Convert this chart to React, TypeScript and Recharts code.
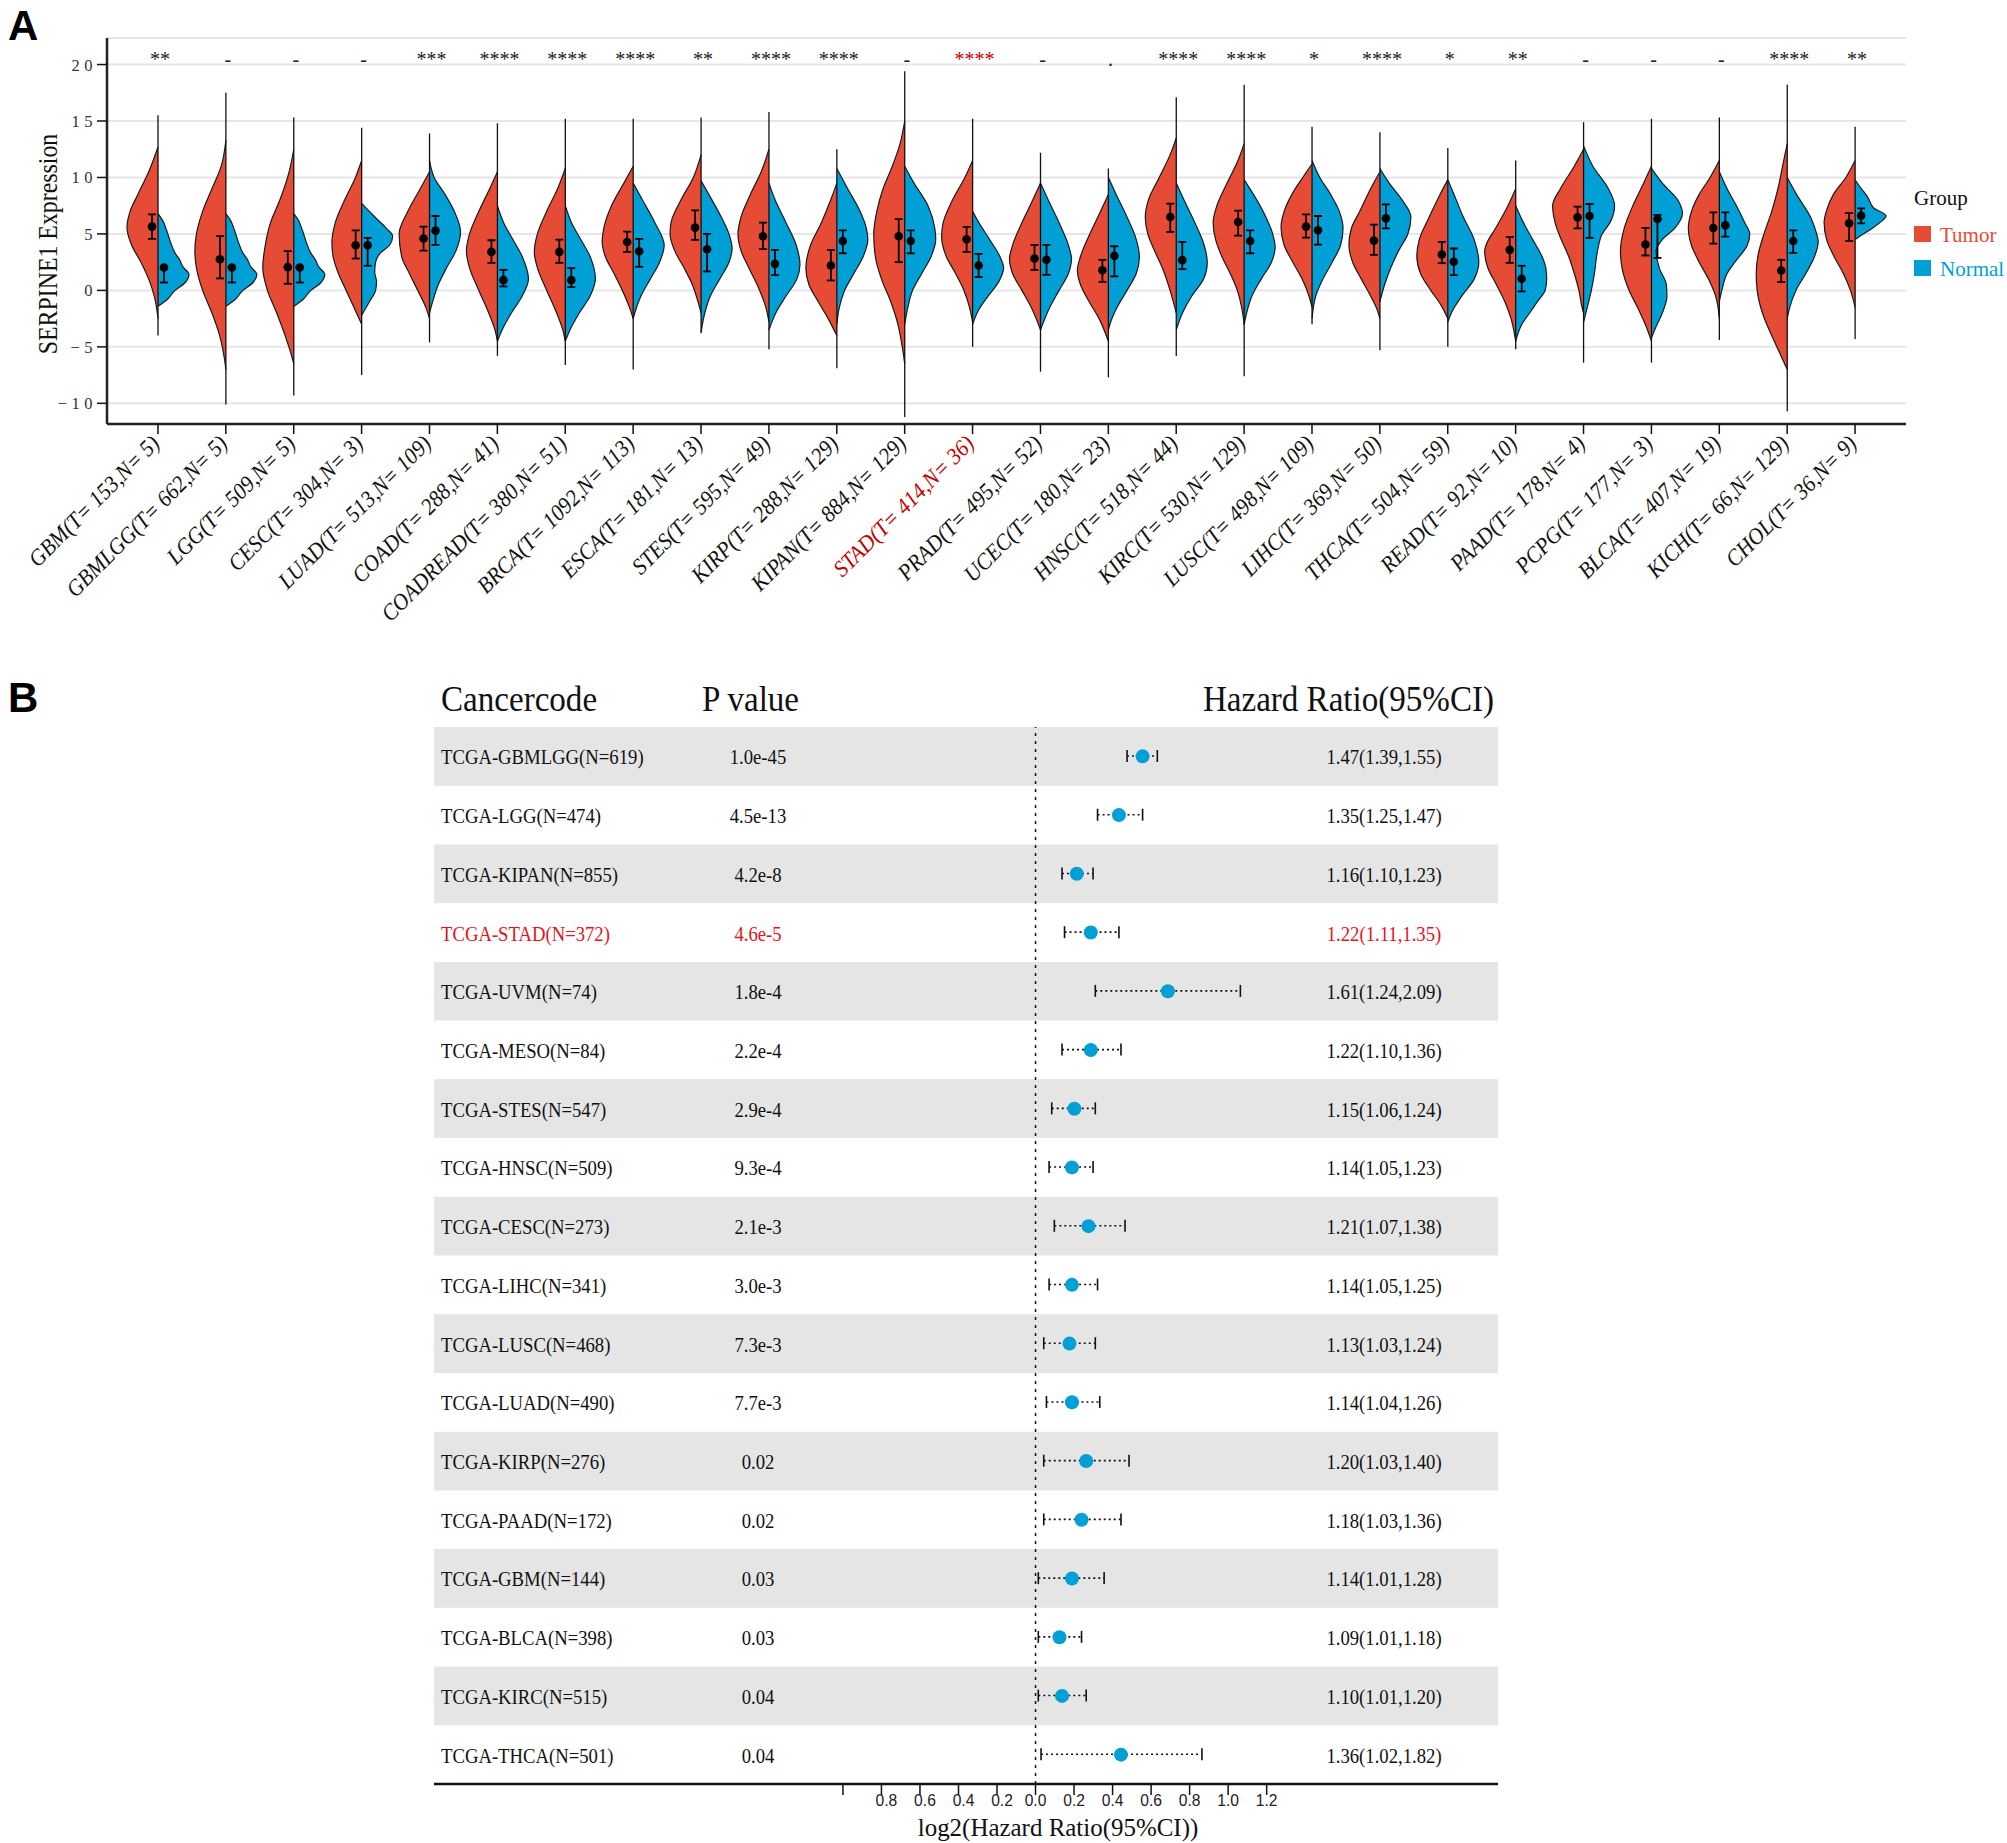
import React from "react";
import {
  ComposedChart,
  Bar,
  Line,
  XAxis,
  YAxis,
  CartesianGrid,
  Curve,
  ReferenceArea,
  ReferenceLine,
} from "recharts";

const SERIF = '"Liberation Serif", "Times New Roman", serif';
const SANS = '"Liberation Sans", Arial, sans-serif';
const RED = "#E64B35";
const BLUE = "#00A0D6";
const HALF_W = 31;

// ---------- Panel A: SERPINE1 expression, tumor vs normal ----------
const CANCERS = [
  "GBM", "GBMLGG", "LGG", "CESC", "LUAD", "COAD", "COADREAD", "BRCA", "ESCA",
  "STES", "KIRP", "KIPAN", "STAD", "PRAD", "UCEC", "HNSC", "KIRC", "LUSC",
  "LIHC", "THCA", "READ", "PAAD", "PCPG", "BLCA", "KICH", "CHOL",
];
const COUNTS = [
  "T= 153,N= 5", "T= 662,N= 5", "T= 509,N= 5", "T= 304,N= 3", "T= 513,N= 109",
  "T= 288,N= 41", "T= 380,N= 51", "T= 1092,N= 113", "T= 181,N= 13", "T= 595,N= 49",
  "T= 288,N= 129", "T= 884,N= 129", "T= 414,N= 36", "T= 495,N= 52", "T= 180,N= 23",
  "T= 518,N= 44", "T= 530,N= 129", "T= 498,N= 109", "T= 369,N= 50", "T= 504,N= 59",
  "T= 92,N= 10", "T= 178,N= 4", "T= 177,N= 3", "T= 407,N= 19", "T= 66,N= 129",
  "T= 36,N= 9",
];
const SIG = [
  "**", "-", "-", "-", "***", "****", "****", "****", "**", "****", "****", "-",
  "****", "-", ".", "****", "****", "*", "****", "*", "**", "-", "-", "-", "****", "**",
];
const HIGHLIGHT = "STAD";

// thin centre line extent
const TAIL_MIN = [-4.0, -10.1, -9.3, -7.5, -4.6, -5.8, -6.6, -7.0, -3.8, -5.2, -6.9, -11.2, -5.0,
  -7.2, -7.7, -5.8, -7.6, -3.0, -5.3, -5.0, -5.2, -6.4, -6.4, -4.4, -10.7, -4.3];
const TAIL_MAX = [15.5, 17.5, 15.3, 14.4, 13.9, 14.8, 15.2, 15.2, 15.3, 15.8, 12.5, 19.4, 15.2,
  12.2, 10.8, 17.1, 18.2, 14.5, 14.0, 12.6, 11.5, 14.9, 15.2, 15.3, 18.2, 14.5];

// half-violin outlines: [expression, relative width]
const TUMOR_SHAPE = [
  [[-2.5, 0], [-0.5, 0.12], [1, 0.3], [2.5, 0.55], [4, 0.85], [5.6, 1], [7, 0.9], [8.5, 0.65], [10.5, 0.3], [12.7, 0]],
  [[-7, 0], [-6, 0.05], [-4, 0.2], [-2, 0.45], [0, 0.75], [2, 0.95], [3.5, 1], [5, 0.95], [7, 0.75], [9, 0.45], [11, 0.15], [13.3, 0]],
  [[-6.5, 0], [-5.5, 0.1], [-4, 0.28], [-2, 0.55], [0, 0.85], [2, 1], [4, 0.92], [6, 0.75], [8, 0.45], [10.5, 0.15], [12.5, 0]],
  [[-3, 0], [-1.5, 0.25], [0, 0.5], [1.5, 0.75], [3, 0.92], [4.2, 0.96], [6, 0.85], [8, 0.55], [10, 0.2], [11.5, 0]],
  [[-2.5, 0], [-1.5, 0.12], [0, 0.38], [1.5, 0.65], [3, 0.9], [5, 0.98], [7, 0.7], [9, 0.3], [10.5, 0]],
  [[-4.5, 0], [-3.5, 0.08], [-2, 0.28], [0, 0.6], [2, 0.9], [3.5, 1], [5, 0.9], [7, 0.6], [9, 0.25], [10.5, 0]],
  [[-4.5, 0], [-3.5, 0.08], [-2, 0.28], [0, 0.6], [2, 0.9], [3.4, 1], [5, 0.9], [7, 0.6], [9, 0.25], [10.8, 0]],
  [[-2.5, 0], [-1.5, 0.12], [0, 0.35], [1.5, 0.62], [3, 0.9], [4.3, 1], [5.5, 0.95], [7.5, 0.7], [9.5, 0.3], [11, 0]],
  [[-2, 0], [-1, 0.1], [0.5, 0.28], [2, 0.55], [3.5, 0.85], [5, 1], [6, 0.97], [8, 0.65], [10, 0.25], [12, 0]],
  [[-2.8, 0], [-1.5, 0.1], [0, 0.3], [2, 0.65], [3.5, 0.9], [5, 1], [6.5, 0.9], [8.5, 0.6], [10.5, 0.25], [12.5, 0]],
  [[-4, 0], [-2.5, 0.28], [-1, 0.6], [0.5, 0.9], [2, 1], [4, 0.85], [6, 0.5], [8, 0.2], [9.5, 0]],
  [[-6.5, 0], [-5, 0.08], [-3, 0.22], [-1, 0.45], [1, 0.75], [3, 0.95], [5, 1], [7, 0.9], [9, 0.7], [11, 0.4], [13, 0.15], [15, 0]],
  [[-2.8, 0], [-1.5, 0.1], [0, 0.28], [1.5, 0.55], [3, 0.85], [4.8, 1], [6, 0.95], [8, 0.65], [10, 0.25], [11.5, 0]],
  [[-3.5, 0], [-1.5, 0.3], [0, 0.6], [1.5, 0.9], [2.8, 1], [4, 0.9], [6, 0.6], [8, 0.25], [9.5, 0]],
  [[-4.5, 0], [-2.5, 0.3], [-1, 0.62], [0.5, 0.9], [1.8, 1], [3, 0.9], [5, 0.6], [7, 0.25], [8.5, 0]],
  [[-2, 0], [0, 0.2], [2, 0.45], [3.5, 0.7], [5, 0.92], [6.5, 1], [8, 0.9], [10, 0.55], [12, 0.2], [13.5, 0]],
  [[-3, 0], [-1.5, 0.08], [0, 0.22], [1.5, 0.45], [3, 0.72], [4.5, 0.92], [6, 1], [7.5, 0.88], [9.5, 0.55], [11.5, 0.2], [13, 0]],
  [[-1.5, 0], [-0.5, 0.1], [1, 0.32], [2.5, 0.62], [4, 0.9], [5.6, 1], [7, 0.9], [8.5, 0.65], [10, 0.3], [11.2, 0]],
  [[-2.5, 0], [-1.5, 0.12], [-0.5, 0.3], [1, 0.6], [2.5, 0.88], [4, 1], [5.5, 0.92], [7, 0.65], [9, 0.3], [10.5, 0]],
  [[-2.5, 0], [-1.3, 0.22], [0, 0.55], [1.5, 0.88], [3.1, 1], [4.5, 0.92], [6.5, 0.6], [8.5, 0.25], [9.8, 0]],
  [[-4.5, 0], [-4, 0.03], [-2.5, 0.15], [-1, 0.35], [0.5, 0.62], [2, 0.9], [3.5, 1], [4.2, 0.93], [5.5, 0.65], [7.5, 0.25], [9, 0]],
  [[-2, 0], [-1.5, 0.05], [0, 0.15], [1.5, 0.3], [3, 0.48], [4.5, 0.72], [6, 0.92], [7.5, 1], [9, 0.75], [11, 0.3], [12.5, 0]],
  [[-4.5, 0], [-3, 0.2], [-1.5, 0.45], [0, 0.72], [2, 0.95], [3.5, 1], [5.5, 0.88], [7.5, 0.6], [9.5, 0.25], [11, 0]],
  [[-2.5, 0], [-0.5, 0.12], [1, 0.35], [2.5, 0.65], [4, 0.9], [5.5, 1], [7, 0.9], [8.5, 0.65], [10, 0.3], [11.5, 0]],
  [[-7, 0], [-5.5, 0.25], [-4, 0.5], [-2, 0.8], [0, 0.97], [1.5, 1], [3, 0.95], [5, 0.75], [7, 0.5], [9, 0.3], [11, 0.15], [13, 0]],
  [[-1.5, 0], [0, 0.15], [1.5, 0.38], [3, 0.68], [4.5, 0.92], [6, 1], [7, 0.93], [8.5, 0.7], [10, 0.3], [11.5, 0]],
];
const NORMAL_SHAPE = [
  [[-1.4, 0], [-0.8, 0.3], [0, 0.55], [0.7, 0.88], [1.4, 1], [2.1, 0.8], [2.7, 0.7], [3.3, 0.55], [4.3, 0.4], [5.3, 0.28], [6.2, 0.15], [6.8, 0]],
  [[-1.4, 0], [-0.8, 0.3], [0, 0.55], [0.7, 0.88], [1.4, 1], [2.1, 0.8], [2.7, 0.7], [3.3, 0.55], [4.3, 0.4], [5.3, 0.28], [6.2, 0.15], [6.8, 0]],
  [[-1.4, 0], [-0.8, 0.3], [0, 0.55], [0.7, 0.88], [1.4, 1], [2.1, 0.8], [2.7, 0.7], [3.3, 0.55], [4.3, 0.4], [5.3, 0.28], [6.2, 0.15], [6.8, 0]],
  [[-2.2, 0], [-1, 0.25], [0, 0.45], [0.8, 0.48], [1.6, 0.42], [2.5, 0.45], [3.3, 0.6], [4, 0.9], [4.8, 1], [5.5, 0.8], [6.3, 0.5], [7, 0.25], [7.7, 0]],
  [[-2, 0], [-1, 0.1], [0.5, 0.28], [2, 0.55], [3.5, 0.85], [5.2, 1], [7, 0.8], [8.5, 0.5], [10, 0.15], [11.5, 0]],
  [[-4.5, 0], [-3.5, 0.15], [-2, 0.45], [-0.5, 0.8], [1, 1], [3, 0.8], [4.5, 0.5], [6, 0.2], [7.5, 0]],
  [[-4.5, 0], [-3.5, 0.15], [-2, 0.45], [-0.5, 0.8], [1, 0.97], [3, 0.8], [4.5, 0.5], [6, 0.2], [7.5, 0]],
  [[-2.5, 0], [-2, 0.05], [-0.5, 0.25], [1, 0.55], [2.5, 0.85], [4, 1], [6, 0.7], [8, 0.3], [9.5, 0]],
  [[-3.7, 0], [-2, 0.12], [-0.5, 0.3], [1, 0.6], [2.5, 0.9], [3.7, 1], [5, 0.9], [6.5, 0.65], [8.5, 0.25], [9.7, 0]],
  [[-3.5, 0], [-2, 0.22], [-0.5, 0.55], [1, 0.9], [2.3, 1], [4, 0.88], [6, 0.55], [8, 0.2], [9.5, 0]],
  [[-3, 0], [-1.5, 0.08], [0, 0.25], [1.5, 0.55], [3, 0.85], [4.5, 1], [5.5, 0.95], [7, 0.75], [9, 0.35], [10.8, 0]],
  [[-3, 0], [-1.5, 0.1], [0, 0.25], [1.5, 0.55], [3, 0.85], [4.5, 1], [5.5, 0.97], [7.5, 0.75], [9.5, 0.3], [11, 0]],
  [[-3, 0], [-1.8, 0.18], [-0.5, 0.5], [0.8, 0.85], [2, 1], [3, 0.88], [4.5, 0.55], [6, 0.2], [7, 0]],
  [[-3.5, 0], [-1.5, 0.3], [0, 0.6], [1.5, 0.9], [2.8, 1], [4, 0.9], [6, 0.6], [8, 0.25], [9.5, 0]],
  [[-3.5, 0], [-3, 0.05], [-1.5, 0.28], [0, 0.6], [1.5, 0.9], [3, 1], [4.5, 0.9], [6.5, 0.6], [8.5, 0.25], [10, 0]],
  [[-3.5, 0], [-2, 0.2], [-0.5, 0.5], [1, 0.88], [2.5, 1], [4, 0.9], [6, 0.6], [8, 0.25], [9.5, 0]],
  [[-3, 0], [-2, 0.08], [-0.5, 0.25], [1, 0.55], [2.5, 0.88], [3.8, 1], [5, 0.92], [6.5, 0.7], [8.5, 0.3], [9.8, 0]],
  [[-2.5, 0], [-0.5, 0.12], [1, 0.35], [2.5, 0.65], [4, 0.92], [5.5, 1], [7, 0.88], [8.5, 0.6], [10, 0.25], [11.5, 0]],
  [[-1, 0], [0.5, 0.15], [2, 0.35], [3.5, 0.6], [5, 0.9], [6.5, 1], [8, 0.72], [9.5, 0.3], [10.8, 0]],
  [[-2.8, 0], [-1.8, 0.15], [-0.5, 0.45], [1, 0.85], [2.5, 1], [4.5, 0.85], [6.5, 0.5], [8.5, 0.2], [9.8, 0]],
  [[-4.5, 0], [-3, 0.2], [-2, 0.45], [-1, 0.7], [0, 0.95], [1, 1], [2, 0.97], [3, 0.85], [4.5, 0.55], [6, 0.25], [7.5, 0]],
  [[-2.8, 0], [-1.5, 0.12], [0, 0.25], [1.5, 0.35], [3.5, 0.45], [5, 0.6], [6, 0.85], [7.5, 1], [9, 0.8], [11, 0.3], [12.8, 0]],
  [[-4.2, 0], [-3.2, 0.15], [-2, 0.35], [-0.5, 0.5], [0.5, 0.48], [2, 0.25], [3.5, 0.15], [4.5, 0.35], [5.5, 0.75], [6.8, 1], [8, 0.85], [9.5, 0.35], [10.8, 0]],
  [[-1, 0], [0, 0.08], [1.5, 0.25], [2.5, 0.5], [4, 0.9], [5, 0.98], [6, 0.82], [7.5, 0.55], [9, 0.25], [10.5, 0]],
  [[-2.5, 0], [-1.5, 0.08], [0, 0.28], [1.5, 0.6], [3, 0.88], [4.3, 1], [5, 0.95], [6.5, 0.75], [8.5, 0.3], [10, 0]],
  [[4.5, 0], [4.8, 0.15], [5.4, 0.5], [6, 0.8], [6.6, 1], [7.3, 0.6], [8.2, 0.42], [9.2, 0.15], [9.8, 0]],
];

const TUMOR_MID = [5.65, 2.76, 2.06, 4.0, 4.59, 3.41, 3.41, 4.29, 5.56, 4.79, 2.2, 4.79, 4.53,
  2.82, 1.79, 6.5, 6.06, 5.65, 4.41, 3.18, 3.59, 6.47, 4.06, 5.53, 1.76, 5.94];
const TUMOR_LO = [4.56, 1.06, 0.59, 2.82, 3.53, 2.44, 2.44, 3.41, 4.47, 3.65, 0.88, 2.5, 3.41,
  1.82, 0.76, 5.18, 4.85, 4.68, 3.15, 2.41, 2.44, 5.5, 3.09, 4.15, 0.74, 4.38];
const TUMOR_HI = [6.74, 4.8, 3.47, 5.32, 5.65, 4.44, 4.5, 5.2, 7.09, 6.0, 3.59, 6.32, 5.62,
  4.03, 2.71, 7.68, 7.06, 6.74, 5.82, 4.29, 4.74, 7.41, 5.53, 6.91, 2.71, 6.85];
const NORMAL_MID = [2.03, 2.03, 2.03, 4.0, 5.29, 0.91, 0.91, 3.47, 3.65, 2.35, 4.38, 4.38, 2.2,
  2.71, 3.06, 2.68, 4.38, 5.32, 6.38, 2.53, 1.03, 6.59, 6.32, 5.76, 4.38, 6.62];
const NORMAL_LO = [0.7, 0.7, 0.7, 2.18, 4.03, 0.35, 0.29, 2.09, 1.68, 1.35, 3.29, 3.29, 1.18,
  1.38, 1.24, 1.88, 3.29, 4.06, 5.5, 1.35, -0.09, 4.65, 2.88, 4.76, 3.32, 5.94];
const NORMAL_HI = [2.1, 2.1, 2.1, 4.65, 6.59, 1.82, 1.97, 4.56, 5.0, 3.59, 5.32, 5.32, 3.24,
  4.03, 3.91, 4.29, 5.32, 6.59, 7.62, 3.71, 2.18, 7.65, 6.68, 6.91, 5.32, 7.26];

const Y_TICKS = [-10, -5, 0, 5, 10, 15, 20];
const Y_DOMAIN = [-11.83, 22.35];
const SIG_Y = 19.85;
const LEGEND_ITEMS = [
  { label: "Tumor", color: RED },
  { label: "Normal", color: BLUE },
];

const violinData = CANCERS.map((c, i) => ({
  name: c,
  label: `${c}(${COUNTS[i]})`,
  range: [TAIL_MIN[i], TAIL_MAX[i]],
  idx: i,
}));

function ViolinShape(props: any) {
  const { x, y, width, height, payload } = props;
  const i = payload.idx;
  const [lo, hi] = payload.range;
  const top = Math.min(y, y + height);
  const h = Math.abs(height);
  const py = (v: number) => top + ((hi - v) / (hi - lo)) * h;
  const cx = x + width / 2;
  const half = (shape: number[][], dir: number) =>
    [...shape].reverse().map(([v, w]) => ({ x: cx + dir * w * HALF_W, y: py(v) }));
  const bar = (px: number, m: number, l: number, u: number) => (
    <g>
      <line x1={px} x2={px} y1={py(u)} y2={py(l)} stroke="#000" strokeWidth={1.8} />
      <line x1={px - 4} x2={px + 4} y1={py(u)} y2={py(u)} stroke="#000" strokeWidth={1.8} />
      <line x1={px - 4} x2={px + 4} y1={py(l)} y2={py(l)} stroke="#000" strokeWidth={1.8} />
      <circle cx={px} cy={py(m)} r={4.3} fill="#000" />
    </g>
  );
  const isHi = payload.name === HIGHLIGHT;
  return (
    <g>
      <Curve type="monotoneY" points={half(TUMOR_SHAPE[i], -1)} fill={RED} stroke="#1a1a1a" strokeWidth={1.2} />
      <Curve type="monotoneY" points={half(NORMAL_SHAPE[i], 1)} fill={BLUE} stroke="#1a1a1a" strokeWidth={1.2} />
      <line x1={cx} x2={cx} y1={py(hi)} y2={py(lo)} stroke="#111" strokeWidth={1.3} />
      {bar(cx - 6, TUMOR_MID[i], TUMOR_LO[i], TUMOR_HI[i])}
      {bar(cx + 6, NORMAL_MID[i], NORMAL_LO[i], NORMAL_HI[i])}
      <text
        x={cx + 2}
        y={py(SIG_Y)}
        textAnchor="middle"
        fontFamily={SERIF}
        fontSize={20}
        fill={isHi ? "#CC0000" : "#222"}
      >
        {SIG[i]}
      </text>
    </g>
  );
}

function XLabelTick(props: any) {
  const { x, y, payload, index } = props;
  const d = violinData[index] || violinData.find((r) => r.name === payload.value);
  const red = d && d.name === HIGHLIGHT;
  return (
    <text
      transform={`translate(${x + 3},${y + 9}) rotate(-45) scale(0.93,1)`}
      textAnchor="end"
      fontFamily={SERIF}
      fontStyle="italic"
      fontSize={23}
      fill={red ? "#C00000" : "#111"}
    >
      {d ? d.label : payload.value}
    </text>
  );
}

function YNumTick(props: any) {
  const { x, y, payload } = props;
  const v = payload.value;
  const s = v < 0 ? `\u2212${Math.abs(v)}` : `${v}`;
  return (
    <text x={x + 2} y={y + 6} textAnchor="end" fontFamily={SERIF} fontSize={16.5} letterSpacing={4.5} fill="#333">
      {s}
    </text>
  );
}

// ---------- Panel B: Cox regression forest ----------
const FOREST_CODES = [
  "TCGA-GBMLGG(N=619)", "TCGA-LGG(N=474)", "TCGA-KIPAN(N=855)", "TCGA-STAD(N=372)",
  "TCGA-UVM(N=74)", "TCGA-MESO(N=84)", "TCGA-STES(N=547)", "TCGA-HNSC(N=509)",
  "TCGA-CESC(N=273)", "TCGA-LIHC(N=341)", "TCGA-LUSC(N=468)", "TCGA-LUAD(N=490)",
  "TCGA-KIRP(N=276)", "TCGA-PAAD(N=172)", "TCGA-GBM(N=144)", "TCGA-BLCA(N=398)",
  "TCGA-KIRC(N=515)", "TCGA-THCA(N=501)",
];
const P_VALUES = [
  "1.0e-45", "4.5e-13", "4.2e-8", "4.6e-5", "1.8e-4", "2.2e-4", "2.9e-4", "9.3e-4", "2.1e-3",
  "3.0e-3", "7.3e-3", "7.7e-3", "0.02", "0.02", "0.03", "0.03", "0.04", "0.04",
];
const HR = [1.47, 1.35, 1.16, 1.22, 1.61, 1.22, 1.15, 1.14, 1.21, 1.14, 1.13, 1.14, 1.2, 1.18, 1.14, 1.09, 1.1, 1.36];
const HR_LO = [1.39, 1.25, 1.1, 1.11, 1.24, 1.1, 1.06, 1.05, 1.07, 1.05, 1.03, 1.04, 1.03, 1.03, 1.01, 1.01, 1.01, 1.02];
const HR_HI = [1.55, 1.47, 1.23, 1.35, 2.09, 1.36, 1.24, 1.23, 1.38, 1.25, 1.24, 1.26, 1.4, 1.36, 1.28, 1.18, 1.2, 1.82];
const FOREST_TICKS = [-1, -0.8, -0.6, -0.4, -0.2, 0, 0.2, 0.4, 0.6, 0.8, 1, 1.2];
const FOREST_DOMAIN = [-3.123, 2.401];
const FOREST_HIGHLIGHT = "TCGA-STAD(N=372)";

const forestRows = FOREST_CODES.map((name, i) => ({
  name,
  p: P_VALUES[i],
  hrText: `${HR[i].toFixed(2)}(${HR_LO[i].toFixed(2)},${HR_HI[i].toFixed(2)})`,
  lhr: Math.log2(HR[i]),
  ci: [Math.log2(HR_LO[i]), Math.log2(HR_HI[i])],
}));

// narrow serif text, like the condensed type of the figure
function NText({ x, y, anchor = "start", size, sx, fill = "#111", children }: any) {
  return (
    <text
      transform={`translate(${x},${y}) scale(${sx},1)`}
      textAnchor={anchor}
      fontFamily={SERIF}
      fontSize={size}
      fill={fill}
    >
      {children}
    </text>
  );
}

function RowTick(props: any) {
  const { y, payload } = props;
  const r = forestRows.find((d) => d.name === payload.value);
  if (!r) return null;
  const col = r.name === FOREST_HIGHLIGHT ? "#E3141B" : "#111";
  const base = y + 8;
  return (
    <g>
      <NText x={441} y={base} size={22} sx={0.85} fill={col}>{r.name}</NText>
      <NText x={758} y={base} anchor="middle" size={22} sx={0.85} fill={col}>{r.p}</NText>
      <NText x={1384} y={base} anchor="middle" size={22} sx={0.85} fill={col}>{r.hrText}</NText>
    </g>
  );
}

function CiShape(props: any) {
  const { x, y, width, height } = props;
  const mid = y + height / 2;
  const x0 = Math.min(x, x + width);
  const x1 = Math.max(x, x + width);
  return (
    <g>
      <line x1={x0} x2={x1} y1={mid} y2={mid} stroke="#111" strokeWidth={1.6} strokeDasharray="2 3" />
      <line x1={x0} x2={x0} y1={mid - 6} y2={mid + 6} stroke="#111" strokeWidth={1.6} />
      <line x1={x1} x2={x1} y1={mid - 6} y2={mid + 6} stroke="#111" strokeWidth={1.6} />
    </g>
  );
}

function ForestTick(props: any) {
  const { x, y, payload } = props;
  const v = payload.value;
  if (v <= -1) return null;
  const s = Math.abs(v).toFixed(1);
  return (
    <text
      transform={`translate(${x + (v < 0 ? 5 : 0)},${y + 9}) scale(0.92,1)`}
      textAnchor="middle"
      fontFamily={SANS}
      fontSize={17}
      fill="#222"
    >
      {s}
    </text>
  );
}

export default function App() {
  return (
    <div style={{ position: "absolute", left: 0, top: 0, width: 2007, height: 1843, background: "#fff" }}>
      <div style={{ position: "absolute", left: 0, top: 0 }}>
        <ComposedChart
          width={2007}
          height={640}
          data={violinData}
          margin={{ top: 38, right: 101, bottom: 16, left: 47 }}
        >
          <CartesianGrid horizontal vertical={false} stroke="#E6E6E6" strokeWidth={2} />
          <XAxis
            dataKey="name"
            type="category"
            interval={0}
            height={200}
            padding={{ left: 17, right: 17 }}
            axisLine={{ stroke: "#222", strokeWidth: 2.5 }}
            tickLine={{ stroke: "#111", strokeWidth: 1.5 }}
            tickSize={10}
            tick={<XLabelTick />}
          />
          <XAxis xAxisId="top" dataKey="name" orientation="top" height={0} tick={false} tickLine={false}
            axisLine={{ stroke: "#222", strokeWidth: 2.5 }} />
          <YAxis
            type="number"
            domain={Y_DOMAIN}
            ticks={Y_TICKS}
            allowDataOverflow
            width={60}
            axisLine={{ stroke: "#222", strokeWidth: 2.5 }}
            tickLine={{ stroke: "#111", strokeWidth: 1.5 }}
            tickSize={10}
            tick={<YNumTick />}
          />
          <YAxis yAxisId="right" orientation="right" type="number" domain={Y_DOMAIN} width={0}
            tick={false} tickLine={false} axisLine={{ stroke: "#222", strokeWidth: 2.5 }} />
          <Bar dataKey="range" barSize={64} shape={<ViolinShape />} isAnimationActive={false} />
        </ComposedChart>
      </div>

      <div style={{ position: "absolute", left: 0, top: 640 }}>
        <ComposedChart
          width={2007}
          height={1203}
          layout="vertical"
          data={forestRows}
          margin={{ top: 87, right: 509, bottom: 19, left: 424 }}
          barCategoryGap={0}
        >
          {forestRows
            .filter((_, i) => i % 2 === 0)
            .map((r) => (
              <ReferenceArea key={r.name} y1={r.name} y2={r.name} fill="#E5E5E5" fillOpacity={1}
                strokeOpacity={0} ifOverflow="visible" />
            ))}
          <XAxis
            type="number"
            domain={FOREST_DOMAIN}
            ticks={FOREST_TICKS}
            allowDataOverflow
            height={40}
            axisLine={{ stroke: "#111", strokeWidth: 2.5 }}
            tickLine={{ stroke: "#111", strokeWidth: 1.5 }}
            tickSize={11}
            tick={<ForestTick />}
          />
          <XAxis xAxisId="top" orientation="top" type="number" domain={[0, 1]} height={0} tick={false}
            tickLine={false} axisLine={{ stroke: "#222", strokeWidth: 3 }} />
          <YAxis type="category" dataKey="name" width={10} interval={0} axisLine={false} tickLine={false}
            tick={<RowTick />} />
          <ReferenceLine x={0} stroke="#111" strokeWidth={1.5} strokeDasharray="3 5" />
          <Bar dataKey="ci" barSize={14} shape={<CiShape />} isAnimationActive={false} />
          <Line dataKey="lhr" stroke="none" dot={{ r: 7, fill: BLUE, stroke: "none" }} activeDot={false}
            isAnimationActive={false} />
        </ComposedChart>
      </div>

      <svg width={2007} height={1843} style={{ position: "absolute", left: 0, top: 0, pointerEvents: "none" }}>
        <text x={8} y={40} fontFamily={SANS} fontWeight="bold" fontSize={42} fill="#000">A</text>
        <text x={8} y={712} fontFamily={SANS} fontWeight="bold" fontSize={42} fill="#000">B</text>
        <text transform="translate(57,244) rotate(-90) scale(0.9,1)" textAnchor="middle" fontFamily={SERIF}
          fontSize={26.5} fill="#111">
          SERPINE1 Expression
        </text>
        <text x={1914} y={205} fontFamily={SERIF} fontSize={21} fill="#111">Group</text>
        {LEGEND_ITEMS.map((it, k) => (
          <g key={it.label}>
            <rect x={1914} y={226 + k * 34} width={17} height={16} fill={it.color} />
            <text x={1940} y={242 + k * 34} fontFamily={SERIF} fontSize={21} fill={it.color}>{it.label}</text>
          </g>
        ))}
        <NText x={441} y={711} size={35} sx={0.945}>Cancercode</NText>
        <NText x={702} y={711} size={35} sx={0.945}>P value</NText>
        <NText x={1494} y={711} anchor="end" size={35} sx={0.945}>Hazard Ratio(95%CI)</NText>
        <NText x={1058} y={1836} anchor="middle" size={26} sx={0.96}>log2(Hazard Ratio(95%CI))</NText>
      </svg>
    </div>
  );
}
